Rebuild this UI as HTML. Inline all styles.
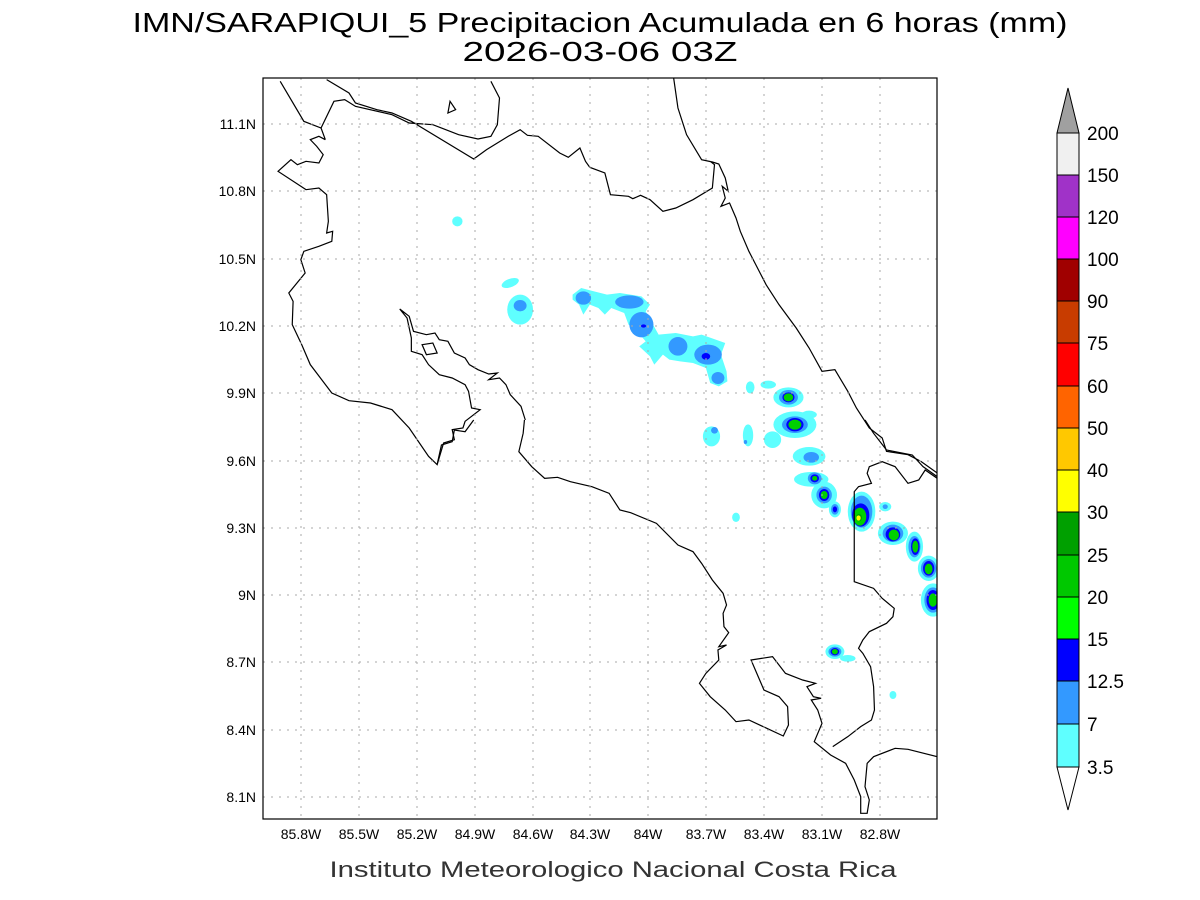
<!DOCTYPE html>
<html><head><meta charset="utf-8"><style>body{margin:0;background:#fff}svg{display:block}</style></head><body>
<svg width="1200" height="900" viewBox="0 0 1200 900" xmlns="http://www.w3.org/2000/svg" font-family="Liberation Sans, sans-serif">
<rect width="1200" height="900" fill="#fff"/>
<text x="600" y="32" font-size="28" text-anchor="middle" textLength="935" lengthAdjust="spacingAndGlyphs" fill="#000">IMN/SARAPIQUI_5 Precipitacion Acumulada en 6 horas (mm)</text>
<text x="600" y="61" font-size="28" text-anchor="middle" textLength="275" lengthAdjust="spacingAndGlyphs" fill="#000">2026-03-06 03Z</text>
<text x="613" y="877" font-size="22" text-anchor="middle" textLength="567" lengthAdjust="spacingAndGlyphs" fill="#333">Instituto Meteorologico Nacional Costa Rica</text>
<defs><clipPath id="c"><rect x="263" y="78" width="674" height="741"/></clipPath></defs>
<g clip-path="url(#c)">
<g transform="translate(263,78) scale(0.43,0.33333)">
<g fill="#5fffff">
<ellipse cx="452" cy="430" rx="12" ry="15"/>
<ellipse cx="575" cy="615" rx="22" ry="12" transform="rotate(-30 575 615)"/>
<ellipse cx="598" cy="695" rx="30" ry="45"/>
<path d="M720,650 L740,630 770,640 800,650 830,645 880,655 900,680 890,700 920,770 960,765 1000,775 1020,770 1075,795 1065,830 1078,880 1080,910 1060,925 1040,915 1030,870 1000,855 970,850 945,845 930,830 910,860 900,835 875,805 890,790 870,760 850,740 840,705 810,690 795,710 780,690 760,680 745,710 735,680 720,665Z"/>
<ellipse cx="1133" cy="928" rx="10" ry="18"/><ellipse cx="1175" cy="920" rx="18" ry="12"/>
<ellipse cx="1222" cy="958" rx="35" ry="30"/><ellipse cx="1237" cy="1040" rx="50" ry="40"/><ellipse cx="1270" cy="1010" rx="18" ry="12"/>
<ellipse cx="1043" cy="1075" rx="20" ry="30"/><ellipse cx="1128" cy="1072" rx="12" ry="33"/>
<ellipse cx="1185" cy="1085" rx="20" ry="25"/><ellipse cx="1270" cy="1135" rx="38" ry="28"/>
</g>
<g fill="#3399ff">
<ellipse cx="598" cy="683" rx="15" ry="17"/>
<ellipse cx="745" cy="660" rx="18" ry="20"/><ellipse cx="852" cy="672" rx="33" ry="20"/><ellipse cx="880" cy="740" rx="28" ry="38"/>
<ellipse cx="965" cy="805" rx="22" ry="28"/><ellipse cx="1035" cy="830" rx="32" ry="30"/><ellipse cx="1058" cy="900" rx="15" ry="18"/>
<ellipse cx="1222" cy="958" rx="22" ry="22"/><ellipse cx="1237" cy="1040" rx="30" ry="25"/>
<ellipse cx="1050" cy="1057" rx="8" ry="10"/><ellipse cx="1122" cy="1092" rx="4" ry="6"/><ellipse cx="1275" cy="1138" rx="18" ry="16"/>
</g>
<g fill="#0000ff">
<ellipse cx="885" cy="744" rx="6" ry="5"/><ellipse cx="1030" cy="835" rx="10" ry="10"/>
<ellipse cx="1222" cy="958" rx="14" ry="15"/><ellipse cx="1237" cy="1040" rx="20" ry="20"/>
</g>
<g fill="#00d000"><ellipse cx="1222" cy="958" rx="11" ry="12"/><ellipse cx="1237" cy="1040" rx="15" ry="15"/></g>
<path fill="none" stroke="#000" stroke-width="1.2" vector-effect="non-scaling-stroke" d="
M40,10 L95,130 135,150 165,70 190,65 215,85 300,110 340,135 395,140 455,170 500,183 530,175 545,140 550,60 530,10
M148,5 L200,45 215,75 265,95 300,105 345,130 490,243 520,215 570,175 598,155 615,172 640,175 690,225 710,238 737,210 750,250 760,268 795,285 808,350 850,355 860,362 878,352 900,365 930,400 960,390 1000,365 1045,330 1050,260 1040,250
M955,0 L965,90 985,170 1020,245 1045,252 1060,258 1075,300 1082,340 1068,325 1075,360 1065,385 1085,375 1100,420 1110,460 1130,520 1150,570 1170,620 1200,680 1240,750 1270,810 1300,880 1330,875 1360,940 1380,990 1410,1050 1440,1080 1450,1120 1500,1130 1530,1150 1568,1185
M145,185 L130,175 110,185 125,205 140,230 130,255 100,250 80,260 65,245 35,280 100,335 130,330 148,350 152,430 148,465 162,460 160,490 130,505 95,520 88,545 98,585 60,645 70,670 68,740 90,800 110,860 160,945 200,968 250,975 300,995 340,1050 385,1135 405,1160 420,1095 445,1085 440,1055 465,1050 470,1030 505,995 485,990 478,940 470,920 440,900 410,890 385,860 370,830 345,820 345,780 335,720 318,693 330,705 340,715 350,760 380,770 400,765 410,785 430,790 445,825 470,840 480,860 500,875 525,888 545,885 525,905 550,900 565,920 575,950 600,985 610,1026
M145,185 L135,150
M370,800 L395,795 405,825 380,830Z
M435,70 L448,95 430,105Z"/>
</g>
<g transform="translate(263,420) scale(0.43,0.33333)">
<g fill="#5fffff">
<ellipse cx="1275" cy="178" rx="40" ry="22"/><ellipse cx="1305" cy="225" rx="30" ry="40"/><ellipse cx="1330" cy="268" rx="14" ry="24"/>
<ellipse cx="1392" cy="275" rx="32" ry="60"/><ellipse cx="1447" cy="260" rx="14" ry="14"/><ellipse cx="1465" cy="340" rx="35" ry="35"/>
<ellipse cx="1515" cy="380" rx="20" ry="45"/><ellipse cx="1548" cy="445" rx="25" ry="38"/><ellipse cx="1558" cy="540" rx="28" ry="50"/>
<ellipse cx="1330" cy="695" rx="22" ry="22"/><ellipse cx="1360" cy="715" rx="18" ry="10"/>
<ellipse cx="1100" cy="292" rx="9" ry="14"/><ellipse cx="1465" cy="825" rx="8" ry="12"/>
</g>
<g fill="#3399ff">
<ellipse cx="1283" cy="175" rx="16" ry="18"/><ellipse cx="1305" cy="225" rx="18" ry="25"/><ellipse cx="1330" cy="268" rx="9" ry="16"/>
<ellipse cx="1392" cy="275" rx="25" ry="48"/><ellipse cx="1447" cy="260" rx="6" ry="7"/><ellipse cx="1465" cy="340" rx="24" ry="26"/>
<ellipse cx="1515" cy="380" rx="14" ry="32"/><ellipse cx="1548" cy="445" rx="18" ry="28"/><ellipse cx="1558" cy="540" rx="20" ry="38"/>
<ellipse cx="1330" cy="695" rx="15" ry="15"/>
</g>
<g fill="#0000ff">
<ellipse cx="1283" cy="175" rx="10" ry="12"/><ellipse cx="1305" cy="225" rx="12" ry="18"/><ellipse cx="1330" cy="268" rx="5" ry="9"/>
<ellipse cx="1390" cy="285" rx="20" ry="35"/><ellipse cx="1465" cy="343" rx="17" ry="21"/><ellipse cx="1517" cy="380" rx="10" ry="25"/>
<ellipse cx="1548" cy="445" rx="13" ry="22"/><ellipse cx="1558" cy="540" rx="15" ry="30"/><ellipse cx="1330" cy="695" rx="10" ry="11"/>
</g>
<g fill="#00d000">
<ellipse cx="1283" cy="175" rx="6" ry="7"/><ellipse cx="1305" cy="225" rx="8" ry="12"/><ellipse cx="1388" cy="290" rx="15" ry="27"/>
<ellipse cx="1467" cy="345" rx="12" ry="16"/><ellipse cx="1517" cy="380" rx="7" ry="18"/><ellipse cx="1548" cy="447" rx="9" ry="16"/>
<ellipse cx="1558" cy="540" rx="10" ry="20"/><ellipse cx="1330" cy="695" rx="7" ry="8"/>
</g>
<ellipse cx="1386" cy="293" rx="7" ry="11" fill="#00a000"/>
<ellipse cx="1385" cy="294" rx="5" ry="8" fill="#ffff00"/>
<path fill="none" stroke="#000" stroke-width="1.2" vector-effect="non-scaling-stroke" d="
M405,133 L415,75 440,65 445,30 470,35 490,0
M608,0 L605,40 595,95 625,140 655,175 685,172 715,185 765,200 805,220 830,270 855,278 915,310 965,375 1000,395 1020,430 1045,480 1070,520 1078,555 1070,580 1072,620 1083,638 1060,680 1078,675 1058,690 1060,720 1030,760 1015,790 1040,830 1075,870 1100,905 1130,900 1210,948 1222,915 1220,860 1200,830 1165,810 1155,780 1135,720 1185,710 1215,760 1255,780 1285,790 1265,800 1280,830 1298,835 1275,840 1290,870 1300,910 1282,965 1320,1005 1355,1030 1375,1080 1390,1130 1390,1180 1405,1180 1410,1140 1400,1100 1405,1030 1420,1010 1470,985 1500,988 1568,1010
M1325,980 L1360,950 1390,920 1415,900 1422,870 1420,800 1413,740 1395,700 1385,685 1395,660 1410,635 1450,610 1465,590 1468,565 1440,535 1420,505 1375,485 1375,215 1385,200 1415,190 1405,160 1410,140 1440,125 1470,140 1500,190 1525,180 1540,150 1568,175
M1400,0 L1420,40 1450,90 1510,105 1535,140 1568,170"/>
</g>
<g stroke="#aaa" stroke-width="1" stroke-dasharray="2,6">
<line x1="301" y1="78" x2="301" y2="819"/><line x1="359" y1="78" x2="359" y2="819"/><line x1="417" y1="78" x2="417" y2="819"/><line x1="475" y1="78" x2="475" y2="819"/><line x1="533" y1="78" x2="533" y2="819"/><line x1="590" y1="78" x2="590" y2="819"/><line x1="648" y1="78" x2="648" y2="819"/><line x1="706" y1="78" x2="706" y2="819"/><line x1="764" y1="78" x2="764" y2="819"/><line x1="822" y1="78" x2="822" y2="819"/><line x1="880" y1="78" x2="880" y2="819"/>
<line x1="263" y1="124" x2="937" y2="124"/><line x1="263" y1="191" x2="937" y2="191"/><line x1="263" y1="259" x2="937" y2="259"/><line x1="263" y1="326" x2="937" y2="326"/><line x1="263" y1="393" x2="937" y2="393"/><line x1="263" y1="461" x2="937" y2="461"/><line x1="263" y1="528" x2="937" y2="528"/><line x1="263" y1="595" x2="937" y2="595"/><line x1="263" y1="662" x2="937" y2="662"/><line x1="263" y1="730" x2="937" y2="730"/><line x1="263" y1="797" x2="937" y2="797"/>
</g>
</g>
<rect x="263" y="78" width="674" height="741" fill="none" stroke="#000" stroke-width="1.2"/>
<g font-size="14" fill="#000" text-anchor="end">
<text x="256" y="129">11.1N</text><text x="256" y="196">10.8N</text><text x="256" y="264">10.5N</text><text x="256" y="331">10.2N</text><text x="256" y="398">9.9N</text><text x="256" y="466">9.6N</text><text x="256" y="533">9.3N</text><text x="256" y="600">9N</text><text x="256" y="667">8.7N</text><text x="256" y="735">8.4N</text><text x="256" y="802">8.1N</text>
</g>
<g font-size="14" fill="#000" text-anchor="middle">
<text x="301" y="839">85.8W</text><text x="359" y="839">85.5W</text><text x="417" y="839">85.2W</text><text x="475" y="839">84.9W</text><text x="533" y="839">84.6W</text><text x="590" y="839">84.3W</text><text x="648" y="839">84W</text><text x="706" y="839">83.7W</text><text x="764" y="839">83.4W</text><text x="822" y="839">83.1W</text><text x="880" y="839">82.8W</text>
</g>
<g stroke="#000" stroke-width="1">
<polygon points="1057,133 1079,133 1068,88" fill="#a0a0a0"/>
<rect x="1057" y="133" width="22" height="42" fill="#f0f0f0"/>
<rect x="1057" y="175" width="22" height="42" fill="#a032c8"/>
<rect x="1057" y="217" width="22" height="42" fill="#ff00ff"/>
<rect x="1057" y="259" width="22" height="42" fill="#a00000"/>
<rect x="1057" y="301" width="22" height="42" fill="#c83c00"/>
<rect x="1057" y="343" width="22" height="43" fill="#ff0000"/>
<rect x="1057" y="386" width="22" height="42" fill="#ff6400"/>
<rect x="1057" y="428" width="22" height="42" fill="#ffc800"/>
<rect x="1057" y="470" width="22" height="42" fill="#ffff00"/>
<rect x="1057" y="512" width="22" height="43" fill="#00a000"/>
<rect x="1057" y="555" width="22" height="42" fill="#00c800"/>
<rect x="1057" y="597" width="22" height="42" fill="#00ff00"/>
<rect x="1057" y="639" width="22" height="42" fill="#0000ff"/>
<rect x="1057" y="681" width="22" height="43" fill="#3399ff"/>
<rect x="1057" y="724" width="22" height="43" fill="#5fffff"/>
<polygon points="1057,767 1079,767 1068,810" fill="#fff"/>
</g>
<g font-size="19" fill="#000">
<text x="1087" y="140">200</text><text x="1087" y="182">150</text><text x="1087" y="224">120</text><text x="1087" y="266">100</text><text x="1087" y="308">90</text><text x="1087" y="350">75</text><text x="1087" y="393">60</text><text x="1087" y="435">50</text><text x="1087" y="477">40</text><text x="1087" y="519">30</text><text x="1087" y="562">25</text><text x="1087" y="604">20</text><text x="1087" y="646">15</text><text x="1087" y="688">12.5</text><text x="1087" y="731">7</text><text x="1087" y="774">3.5</text>
</g>
</svg>
</body></html>
